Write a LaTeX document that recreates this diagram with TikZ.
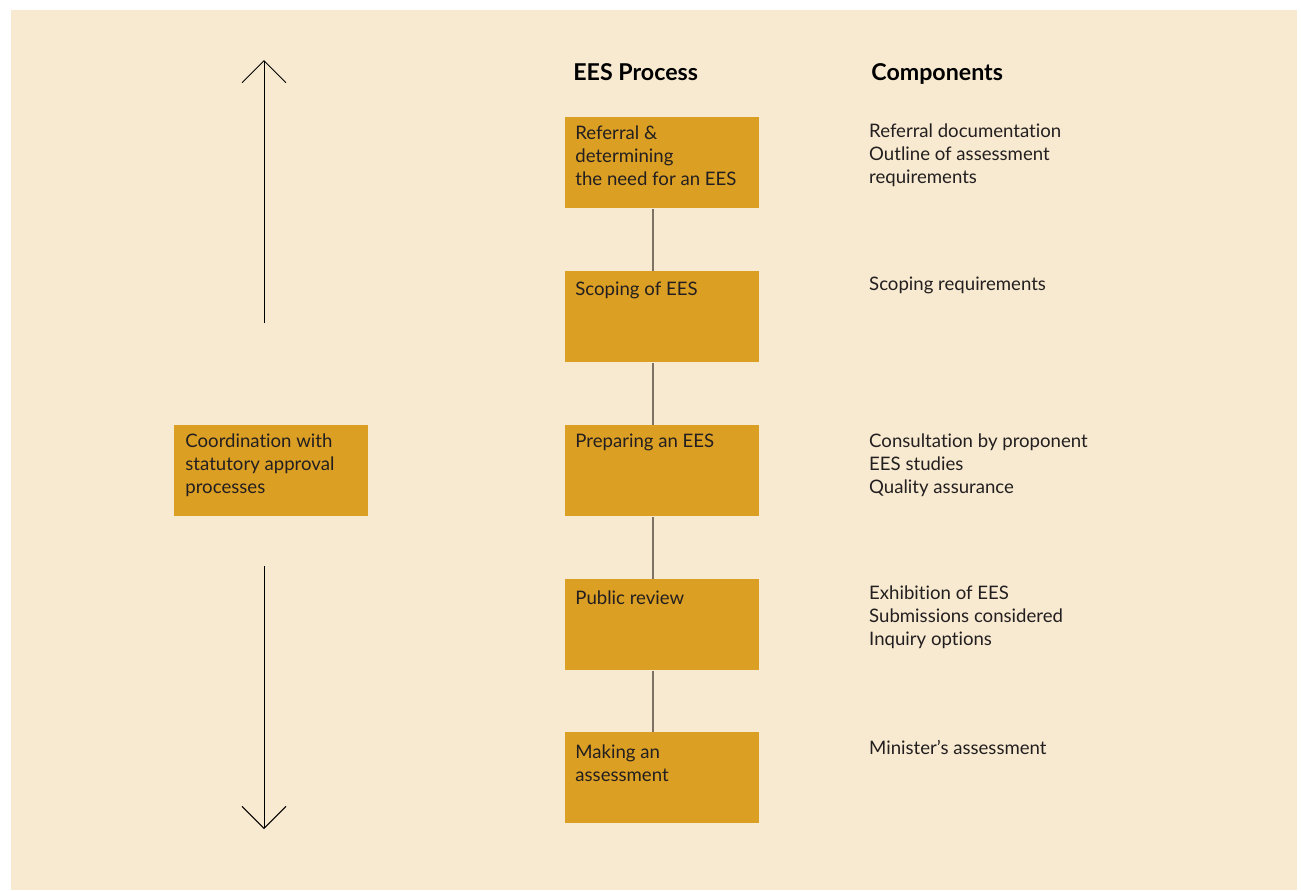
\documentclass[tikz,border=0pt]{standalone}
\usepackage{fontspec}
\setmainfont{Lato}[RawFeature=-liga]
\usetikzlibrary{arrows.meta}
\definecolor{paper}{RGB}{248,234,208}
\definecolor{ochre}{RGB}{219,159,36}
\definecolor{ink}{RGB}{35,31,32}
\definecolor{rulegray}{RGB}{125,115,100}

\begin{document}
\begin{tikzpicture}[
    x=0.5pt, y=-0.5pt,
    stage/.style={rectangle, fill=ochre, minimum width=97pt, minimum height=45.5pt, inner sep=0pt, anchor=north west},
    txt/.style={anchor=north west, inner sep=0pt, align=left, text=ink, font=\fontsize{9.3}{11.5}\selectfont},
    head/.style={anchor=base west, inner sep=0pt, font=\fontsize{11.6}{13}\selectfont\bfseries},
    link/.style={draw=rulegray, line width=1pt},
    span/.style={line width=0.5pt, -{Straight Barb[length=11pt, width=22pt]}}
]
\useasboundingbox (0,0) rectangle (1301,890);
\fill[white] (0,0) rectangle (1301,890);
\fill[paper] (11,10) rectangle (1297,890);

% ---- headings ----
\node[head] (hproc) at (573,80) {EES Process};
\node[head] (hcomp) at (871,80) {Components};

% ---- process boxes ----
\node[stage] (ref) at (565,117) {};
\node[stage] (scope) at (565,271) {};
\node[stage] (prep) at (565,425) {};
\node[stage] (review) at (565,579) {};
\node[stage] (assess) at (565,732) {};
\node[stage] (coord) at (174,425) {};

% ---- box texts ----
\node[txt] (ref-t) at ([xshift=5pt,yshift=-4pt]ref.north west) {Referral \&\\determining\\the need for an EES};
\node[txt] (scope-t) at ([xshift=5pt,yshift=-5.5pt]scope.north west) {Scoping of EES};
\node[txt] (prep-t) at ([xshift=5pt,yshift=-4.5pt]prep.north west) {Preparing an EES};
\node[txt] (review-t) at ([xshift=5pt,yshift=-5.5pt]review.north west) {Public review};
\node[txt] (assess-t) at ([xshift=5pt,yshift=-6pt]assess.north west) {Making an\\assessment};
\node[txt] (coord-t) at ([xshift=5.5pt,yshift=-4pt]coord.north west) {Coordination with\\statutory approval\\processes};

% ---- components ----
\node[txt] (ref-c) at ([xshift=54.5pt,yshift=-3pt]ref.north east) {Referral documentation\\Outline of assessment\\requirements};
\node[txt] (scope-c) at ([xshift=54.5pt,yshift=-3pt]scope.north east) {Scoping requirements};
\node[txt] (prep-c) at ([xshift=54.5pt,yshift=-4pt]prep.north east) {Consultation by proponent\\EES studies\\Quality assurance};
\node[txt] (review-c) at ([xshift=54.5pt,yshift=-3pt]review.north east) {Exhibition of EES\\Submissions considered\\Inquiry options};
\node[txt] (assess-c) at ([xshift=54.5pt,yshift=-4pt]assess.north east) {Minister’s assessment};

% ---- links ----
\draw[link] ([xshift=-4.5pt]ref.south) -- ([xshift=-4.5pt]scope.north);
\draw[link] ([xshift=-4.5pt]scope.south) -- ([xshift=-4.5pt]prep.north);
\draw[link] ([xshift=-4.5pt]prep.south) -- ([xshift=-4.5pt]review.north);
\draw[link] ([xshift=-4.5pt]review.south) -- ([xshift=-4.5pt]assess.north);

% ---- arrows ----
\coordinate (upfoot) at (264,323);
\coordinate (uptip) at (264,60);
\coordinate (downfoot) at (264,566);
\coordinate (downtip) at (264,829);
\draw[span] (upfoot) -- (uptip);
\draw[span] (downfoot) -- (downtip);

\end{tikzpicture}
\end{document}
